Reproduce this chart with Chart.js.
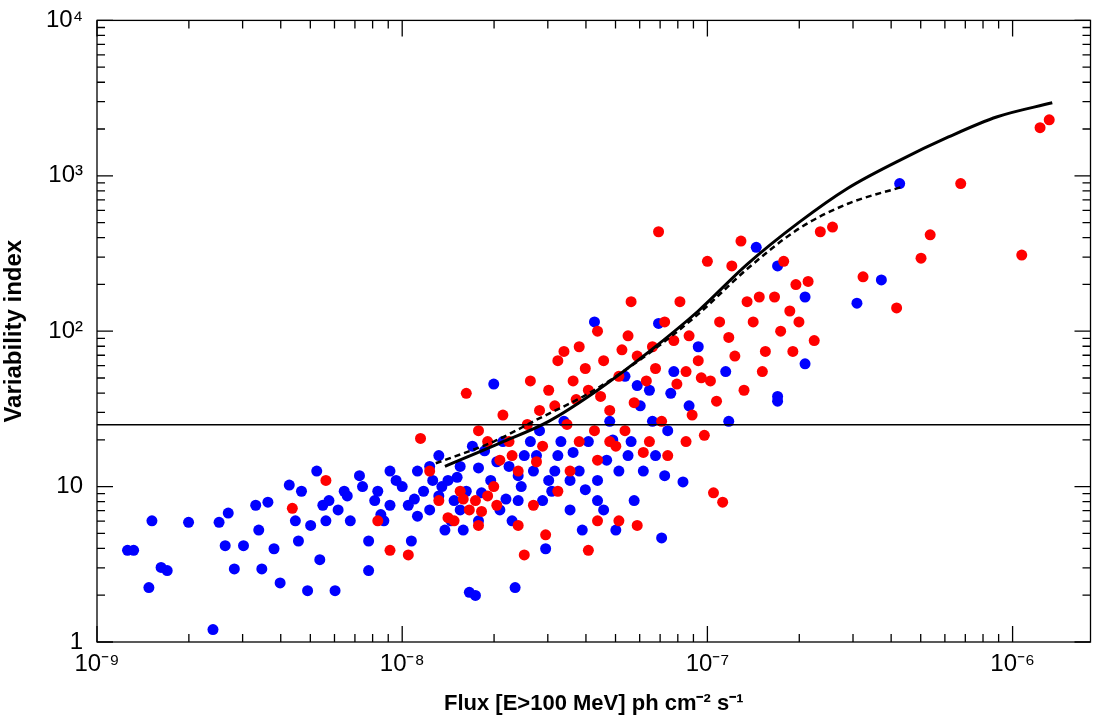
<!DOCTYPE html>
<html>
<head>
<meta charset="utf-8">
<script src="https://cdn.jsdelivr.net/npm/chart.js@4/dist/chart.umd.min.js"></script>
<style>
html,body{margin:0;padding:0;background:#fff;}
#wrap{width:1096px;height:717px;}
</style>
</head>
<body>
<div id="wrap"><canvas id="c"></canvas></div>
<script>
// points as [log10 flux, log10 variability index]
const bluePts = [
  [-8.90,.59],[-8.88,.59],[-8.83,.35],[-8.82,.78],[-8.79,.48],[-8.77,.46],[-8.70,.77],[-8.62,.08],
  [-8.60,.77],[-8.57,.83],[-8.55,.47],[-8.52,.62],[-8.48,.88],[-8.47,.72],[-8.46,.47],[-8.42,.60],
  [-8.40,.38],[-8.37,1.01],[-8.34,.65],[-8.31,.33],[-8.28,1.10],[-8.27,.53],[-8.24,.91],[-8.22,.33],
  [-8.19,.97],[-8.17,.78],[-8.14,1.07],[-8.11,.65],[-8.11,.46],[-8.09,.91],[-8.06,.78],[-8.04,.88],
  [-8.02,1.04],[-7.98,.88],[-7.97,.65],[-7.95,1.10],[-7.93,.97],[-7.91,.85],[-7.88,1.20],[-7.86,.72],
  [-7.85,1.04],[-7.83,.91],[-7.81,1.13],[-7.78,.32],[-7.76,.30],[-7.75,.78],[-7.73,1.23],[-7.71,1.04],
  [-7.70,1.66],[-7.68,.85],[-7.65,1.13],[-7.63,.35],[-7.62,.91],[-7.58,1.29],[-7.57,1.10],[-7.55,1.36],
  [-7.53,.60],[-7.51,.97],[-7.49,1.20],[-7.47,1.42],[-7.45,.85],[-7.42,1.10],[-7.41,.72],[-7.37,2.06],
  [-7.36,.91],[-7.33,1.17],[-7.32,1.42],[-7.30,.72],[-7.27,1.71],[-7.25,1.29],[-7.23,1.65],[-7.19,1.62],
  [-7.18,1.42],[-7.16,2.05],[-7.15,.67],[-7.13,1.36],[-7.11,1.74],[-7.08,1.03],[-7.06,1.52],[-7.03,1.90],
  [-6.94,1.74],[-6.93,1.42],[-6.84,2.54],[-6.77,1.58],[-6.77,1.55],[-6.77,2.42],[-6.68,2.22],[-6.68,1.79],
  [-6.51,2.18],[-6.43,2.33],[-6.37,2.95],
  [-7.95,.81],[-7.91,1.13],[-7.88,.94],[-7.84,.78],[-7.81,.85],[-7.79,.97],[-7.77,1.26],[-7.75,1.12],
  [-7.67,1.29],[-7.64,.78],[-7.62,1.07],[-7.60,1.20],[-7.54,.91],[-7.50,1.10],[-7.48,1.29],[-7.45,1.04],
  [-7.39,1.29],[-7.36,1.04],[-7.34,.85],[-7.29,1.10],[-7.26,1.20],[-7.24,.91],[-7.21,1.10],[-7.17,1.20],
  [-7.14,1.07],[-8.08,.97],[-8.04,1.10],[-8.21,.85],[-8.25,.78],[-8.30,.75],[-8.35,.78],
  [-8.58,.62],[-8.44,.90],[-8.33,.97],[-8.26,.88],[-8.18,.94],[-8.13,1.00],[-8.07,.82],[-8.00,1.00],
  [-7.96,.92],[-7.90,1.04],[-7.87,1.00],[-7.82,1.06],[-7.80,.72],[-7.74,.96],[-7.69,1.16],[-7.66,.92],
  [-7.61,1.00],[-7.56,1.20],[-7.52,1.04],[-7.44,1.22],[-7.40,.98],[-7.31,1.30],[-7.22,1.52],[-7.12,1.60]
];
const redPts = [
  [-8.36,.86],[-8.25,1.04],[-8.08,.78],[-8.04,.59],[-7.98,.56],[-7.94,1.31],[-7.91,1.10],[-7.88,.91],
  [-7.83,.78],[-7.81,.97],[-7.78,.85],[-7.76,.91],[-7.75,.75],[-7.72,.94],[-7.69,.88],[-7.67,1.46],
  [-7.65,1.29],[-7.62,.75],[-7.60,.56],[-7.57,.88],[-7.53,.69],[-7.49,.97],[-7.45,1.10],[-7.39,.59],
  [-7.36,.78],[-7.29,.78],[-7.23,.75],
  [-7.58,1.68],[-7.55,1.49],[-7.52,1.62],[-7.49,1.81],[-7.47,1.87],[-7.44,1.68],[-7.42,1.90],[-7.39,1.62],
  [-7.36,2.00],[-7.34,1.81],[-7.32,1.49],[-7.29,1.71],[-7.26,1.97],[-7.25,2.19],[-7.23,1.84],[-7.20,1.68],
  [-7.18,1.90],[-7.16,2.64],[-7.14,2.06],[-7.11,1.94],[-7.09,2.19],[-7.07,1.74],[-7.06,1.97],[-7.03,1.81],
  [-7.00,2.45],[-6.99,1.68],[-6.97,1.55],[-6.96,2.06],[-6.92,2.42],[-6.91,1.84],[-6.89,2.58],[-6.87,2.19],
  [-6.85,2.06],[-6.83,2.22],[-6.81,1.87],[-6.78,2.22],[-6.75,2.45],[-6.73,2.13],[-6.72,1.87],[-6.70,2.06],
  [-6.67,2.32],[-6.65,1.94],[-6.63,2.64],[-6.59,2.67],[-6.49,2.35],[-6.38,2.15],[-6.30,2.47],[-6.27,2.62],
  [-6.17,2.95],[-5.97,2.49],[-5.91,3.31],[-5.88,3.36],[-6.98,.96],[-6.95,.90],
  [-7.79,1.60],[-7.75,1.36],[-7.72,1.29],[-7.68,1.17],[-7.62,1.10],[-7.54,1.26],[-7.42,1.29],[-7.36,1.17],
  [-7.32,1.29],[-7.27,1.36],[-7.19,1.29],[-7.13,1.20],[-7.07,1.29],[-7.01,1.33],
  [-7.85,.80],[-7.80,.92],[-7.74,.84],[-7.70,1.00],[-7.64,1.20],[-7.59,1.40],[-7.56,1.16],[-7.50,1.52],
  [-7.46,1.40],[-7.43,1.56],[-7.40,1.76],[-7.37,1.36],[-7.35,1.58],[-7.30,1.26],[-7.28,1.88],[-7.24,1.54],
  [-7.21,1.22],[-7.17,1.76],[-7.15,1.42],[-7.10,1.66],[-7.05,1.46],[-7.02,1.70],[-6.93,1.96],[-6.88,1.62],
  [-6.82,1.74],[-6.76,2.00],[-6.71,2.30]
];
const solidX = [-7.86,-7.68,-7.52,-7.36,-7.19,-7.03,-6.87,-6.70,-6.54,-6.38,-6.21,-6.05,-5.87];
const solidY = [1.13,1.28,1.42,1.62,1.87,2.13,2.43,2.70,2.92,3.09,3.25,3.38,3.47];
const dashX = [-7.89,-7.70,-7.56,-7.38,-7.19,-7.03,-6.87,-6.70,-6.54,-6.36];
const dashY = [1.15,1.29,1.43,1.61,1.86,2.11,2.40,2.66,2.82,2.93];
const threshold = 25;
const xRange = [1e-9, 1.8e-6];
const xTickLabels = {'-9':'10⁻⁹','-8':'10⁻⁸','-7':'10⁻⁷','-6':'10⁻⁶'};
const yTickLabels = {'0':'1','1':'10','2':'10²','3':'10³','4':'10⁴'};

const toXY = p => ({x: Math.pow(10, p[0]), y: Math.pow(10, p[1])});
const curve = (xs, ys) => xs.map((v, i) => ({x: Math.pow(10, v), y: Math.pow(10, ys[i])}));
const font = 'Liberation Sans, Arial, Helvetica, sans-serif';

const tickPlugin = {
  id: 'logTicks',
  afterDraw(chart) {
    const {ctx, chartArea: a, scales: {x, y}} = chart;
    ctx.save();
    ctx.strokeStyle = '#000';
    ctx.lineWidth = 1.3;
    ctx.strokeRect(a.left, a.top, a.right - a.left, a.bottom - a.top);
    ctx.beginPath();
    for (let e = -9; e <= -6; e++) {
      for (let m = 1; m < 10; m++) {
        const v = m * Math.pow(10, e);
        if (v < xRange[0] || v > xRange[1]) continue;
        const px = x.getPixelForValue(v);
        const len = m === 1 ? 16 : 8;
        ctx.moveTo(px, a.bottom); ctx.lineTo(px, a.bottom - len);
        ctx.moveTo(px, a.top); ctx.lineTo(px, a.top + len);
      }
    }
    for (let e = 0; e <= 4; e++) {
      for (let m = 1; m < 10; m++) {
        const v = m * Math.pow(10, e);
        if (v > 1e4) continue;
        const py = y.getPixelForValue(v);
        const len = m === 1 ? 16 : 8;
        ctx.moveTo(a.left, py); ctx.lineTo(a.left + len, py);
        ctx.moveTo(a.right, py); ctx.lineTo(a.right - len, py);
      }
    }
    ctx.stroke();
    ctx.restore();
  }
};

new Chart(document.getElementById('c'), {
  type: 'scatter',
  data: {
    datasets: [
      {data: bluePts.map(toXY), backgroundColor: '#0000ff', borderWidth: 0, pointRadius: 5.5, order: 3},
      {data: redPts.map(toXY), backgroundColor: '#ff0000', borderWidth: 0, pointRadius: 5.5, order: 2},
      {type: 'line', data: [{x: xRange[0], y: threshold}, {x: xRange[1], y: threshold}],
        borderColor: '#000', borderWidth: 1.3, pointRadius: 0, order: 1},
      {type: 'line', data: curve(solidX, solidY), borderColor: '#000', borderWidth: 3,
        pointRadius: 0, cubicInterpolationMode: 'monotone', order: 0},
      {type: 'line', data: curve(dashX, dashY), borderColor: '#000', borderWidth: 2.5,
        borderDash: [6, 4], pointRadius: 0, cubicInterpolationMode: 'monotone', order: 0}
    ]
  },
  options: {
    responsive: true,
    maintainAspectRatio: false,
    animation: false,
    layout: {padding: {top: 18, right: 3, left: 0, bottom: 0}},
    plugins: {legend: {display: false}, tooltip: {enabled: false}},
    scales: {
      x: {
        type: 'logarithmic', min: xRange[0], max: xRange[1],
        grid: {display: false}, border: {display: false},
        afterBuildTicks: s => { s.ticks = [-9, -8, -7, -6].map(e => ({value: Math.pow(10, e)})); },
        afterFit: s => { s.height = 75; },
        ticks: {
          color: '#000', font: {family: font, size: 24}, padding: 0, maxRotation: 0,
          callback: v => xTickLabels[String(Math.round(Math.log10(v)))]
        },
        title: {display: true, text: 'Flux [E>100 MeV] ph cm⁻² s⁻¹', color: '#000',
          font: {family: font, size: 22, weight: 'bold'}, padding: {top: 0, bottom: 0}}
      },
      y: {
        type: 'logarithmic', min: 1, max: 1e4,
        grid: {display: false}, border: {display: false},
        afterBuildTicks: s => { s.ticks = [0, 1, 2, 3, 4].map(e => ({value: Math.pow(10, e)})); },
        afterFit: s => { s.width = 97; },
        ticks: {
          color: '#000', font: {family: font, size: 24}, padding: 6,
          callback: v => yTickLabels[String(Math.round(Math.log10(v)))]
        },
        title: {display: true, text: 'Variability index', color: '#000',
          font: {family: font, size: 24, weight: 'bold'}, padding: {top: 0, bottom: 4}}
      }
    }
  },
  plugins: [tickPlugin]
});
</script>
</body>
</html>
